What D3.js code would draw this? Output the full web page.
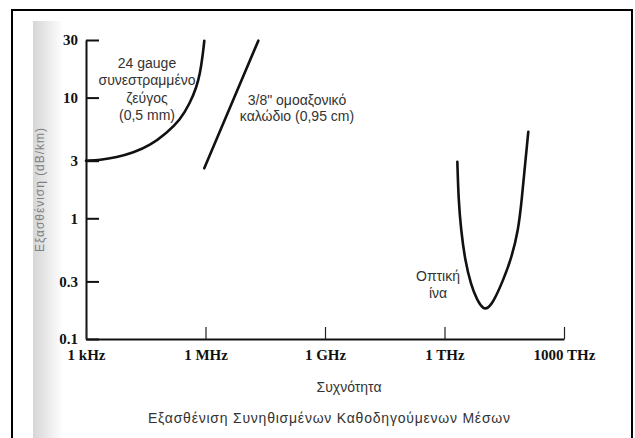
<!DOCTYPE html>
<html lang="el">
<head>
  <meta charset="UTF-8">
  <title>Εξασθένιση Συνηθισμένων Καθοδηγούμενων Μέσων</title>
  <script src="https://d3js.org/d3.v7.min.js"></script>
  <style>
    body {
      margin: 0;
      background: white;
    }
    svg {
      display: block;
    }
    .tick-label {
      font-family: "Liberation Serif", "Times New Roman", serif;
      font-weight: bold;
      font-size: 15px;
      fill: #111;
    }
    .note {
      font-family: "Liberation Sans", Arial, sans-serif;
      font-size: 14px;
      fill: #333;
      text-anchor: middle;
    }
    .curve {
      fill: none;
      stroke: #111;
      stroke-width: 2.6;
      stroke-linecap: round;
    }
  </style>
</head>
<body>
  <svg id="chart"></svg>
  <script>
    const width = 635;
    const height = 438;

    // frequency (Hz) and attenuation (dB/km)
    const pairFreq  = [1e3, 2.24e3, 5.9e3, 1.54e4, 4.0e4, 1.06e5, 2.29e5, 4.08e5, 6.01e5, 7.28e5, 8.17e5, 8.81e5, 9.34e5];
    const pairAtten = [3.0, 3.04, 3.2, 3.5, 4.0, 5.1, 6.5, 9.0, 12.3, 15.9, 20.5, 24.8, 29.6];

    const coaxFreq  = [9.3e5, 2.12e7];
    const coaxAtten = [2.6, 29.6];

    const fiberFreq  = [2.10e12, 2.25e12, 2.60e12, 3.27e12, 4.63e12, 6.56e12, 9.44e12, 1.24e13, 1.68e13, 3.0e13, 4.88e13, 7.14e13, 8.69e13, 1.05e14, 1.27e14];
    const fiberAtten = [2.94, 1.42, 0.80, 0.451, 0.280, 0.210, 0.176, 0.18, 0.202, 0.308, 0.478, 0.80, 1.42, 2.76, 5.21];

    const xTicks = [1e3, 1e6, 1e9, 1e12, 1e15];
    const xTickLabels = ["1 kHz", "1 MHz", "1 GHz", "1 THz", "1000 THz"];
    const yTicks = [0.1, 0.3, 1, 3, 10, 30];
    const yTickLabels = ["0.1", "0.3", "1", "3", "10", "30"];

    const svg = d3.select("#chart")
      .attr("width", width)
      .attr("height", height);

    // scan shadow on the left edge
    const defs = svg.append("defs");
    const grad = defs.append("linearGradient").attr("id", "shade");
    grad.append("stop").attr("offset", 0).attr("stop-color", "#d6d6d6");
    grad.append("stop").attr("offset", 0.45).attr("stop-color", "#e8e8e8");
    grad.append("stop").attr("offset", 1).attr("stop-color", "#ffffff");
    svg.append("rect")
      .attr("x", 33).attr("y", 21)
      .attr("width", 30).attr("height", 430)
      .attr("fill", "url(#shade)");

    // page frame
    svg.append("rect")
      .attr("x", 12).attr("y", 10)
      .attr("width", 620).attr("height", 440)
      .attr("fill", "none")
      .attr("stroke", "#000")
      .attr("stroke-width", 2);

    const x = d3.scaleLog().domain([1e3, 1e15]).range([86, 564]);
    const y = d3.scaleLog().domain([0.1, 30]).range([339, 40]);

    // y axis
    const yAxis = svg.append("g")
      .attr("transform", `translate(${x(1e3)},0)`)
      .call(d3.axisLeft(y)
        .tickValues(yTicks)
        .tickFormat((d, i) => yTickLabels[i])
        .tickSizeInner(-13)
        .tickSizeOuter(0)
        .tickPadding(8));
    yAxis.select(".domain").attr("stroke", "#111").attr("stroke-width", 2);
    yAxis.selectAll(".tick line").attr("stroke", "#111").attr("stroke-width", 2);
    yAxis.selectAll(".tick text").attr("class", "tick-label").attr("font-family", null).attr("font-size", null);

    // x axis
    const xAxis = svg.append("g")
      .attr("transform", `translate(0,${y(0.1)})`)
      .call(d3.axisBottom(x)
        .tickValues(xTicks)
        .tickFormat((d, i) => xTickLabels[i])
        .tickSizeInner(-12)
        .tickSizeOuter(0)
        .tickPadding(10));
    xAxis.select(".domain").attr("stroke", "#111").attr("stroke-width", 2);
    xAxis.selectAll(".tick line").attr("stroke", "#222").attr("stroke-width", 1.2);
    xAxis.selectAll(".tick text").attr("class", "tick-label").attr("font-family", null).attr("font-size", null)
      .attr("text-anchor", "middle");

    // curves
    const line = d3.line()
      .x(d => x(d[0]))
      .y(d => y(d[1]))
      .curve(d3.curveBasis);

    svg.append("path").attr("class", "curve")
      .attr("d", line(d3.zip(pairFreq, pairAtten)));
    svg.append("path").attr("class", "curve")
      .attr("d", line(d3.zip(coaxFreq, coaxAtten)));
    svg.append("path").attr("class", "curve")
      .attr("d", line(d3.zip(fiberFreq, fiberAtten)));

    // annotations
    const notes = [
      { lines: ["24 gauge", "συνεστραμμένο", "ζεύγος", "(0,5 mm)"], x: 147, y: 68, dy: 17.3 },
      { lines: ["3/8\" ομοαξονικό", "καλώδιο (0,95 cm)"], x: 297, y: 105, dy: 16 },
      { lines: ["Οπτική", "ίνα"], x: 438, y: 281, dy: 17 }
    ];
    notes.forEach(n => {
      const t = svg.append("text").attr("class", "note");
      n.lines.forEach((s, i) => {
        t.append("tspan").attr("x", n.x).attr("y", n.y + i * n.dy).text(s);
      });
    });

    // axis titles
    svg.append("text")
      .attr("class", "note")
      .attr("transform", "translate(44,190) rotate(-90)")
      .attr("textLength", 124)
      .style("font-size", "12px")
      .style("fill", "#808080")
      .text("Εξασθένιση (dB/km)");

    svg.append("text")
      .attr("class", "note")
      .attr("x", 349).attr("y", 392)
      .text("Συχνότητα");

    svg.append("text")
      .attr("class", "note")
      .attr("x", 329).attr("y", 423)
      .attr("textLength", 362)
      .attr("lengthAdjust", "spacing")
      .text("Εξασθένιση Συνηθισμένων Καθοδηγούμενων Μέσων");
  </script>
</body>
</html>
